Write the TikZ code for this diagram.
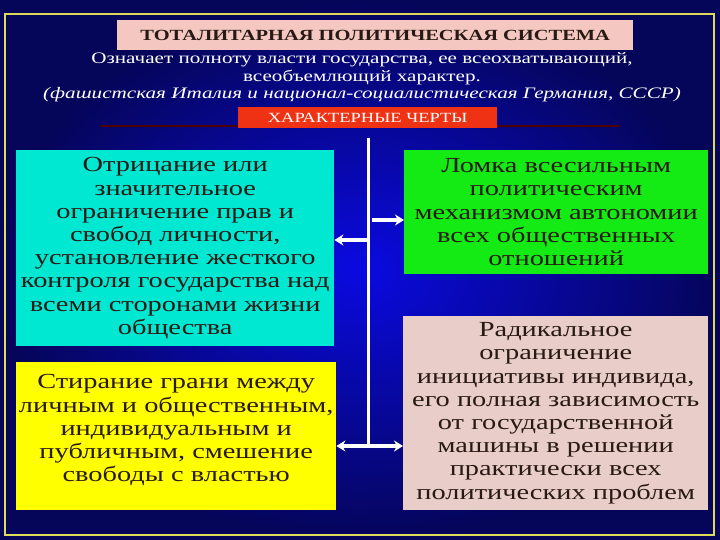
\documentclass[tikz,border=0pt]{standalone}
\usepackage{fontspec}
\setmainfont[FakeStretch=1.32]{Liberation Serif}
\usetikzlibrary{arrows.meta}
\definecolor{navy}{RGB}{5,5,90}
\definecolor{mid}{RGB}{10,10,225}
\definecolor{titlepink}{RGB}{244,200,192}
\definecolor{redbox}{RGB}{240,50,20}
\definecolor{cyanbox}{RGB}{0,232,210}
\definecolor{greenbox}{RGB}{20,235,20}
\definecolor{yellowbox}{RGB}{255,255,0}
\definecolor{pinkbox}{RGB}{232,205,200}
\definecolor{txt}{RGB}{40,25,20}
\definecolor{frame}{RGB}{220,220,90}
\tikzset{
 box/.style={draw=none,anchor=north west,align=center,inner sep=1pt,font=\fontsize{21.5}{23.2}\selectfont,text=txt},
 wl/.style={draw=white,line width=3pt},
 warr/.style={draw=white,line width=3.5pt,-{Stealth[length=9pt,width=11pt]}},
 sub/.style={text=white,font=\fontsize{16}{17}\selectfont}
}
\begin{document}
\begin{tikzpicture}[x=1pt,y=-1pt]
\useasboundingbox (0,0) rectangle (720,540);
\shade[inner color=mid,outer color=navy] (0,0) rectangle (720,540);
\draw[frame,line width=1.2pt] (5,14) rectangle (714,535);
\node[fill=titlepink,minimum width=516pt,minimum height=30pt,anchor=north west,text=txt,font=\bfseries\fontsize{15.5}{16}\selectfont] (title) at (117,20) {ТОТАЛИТАРНАЯ ПОЛИТИЧЕСКАЯ СИСТЕМА};
\node[sub] (s1) at (362,60) {Означает полноту власти государства, ее всеохватывающий,};
\node[sub] (s2) at (362,77) {всеобъемлющий характер.};
\node[sub,font=\itshape\fontsize{16}{17}\selectfont] (s3) at (362,95) {(фашистская Италия и национал-социалистическая Германия, СССР)};
\draw[draw=black!70!red,line width=1.5pt] (100,126) -- (620,126);
\node[fill=redbox,minimum width=259pt,minimum height=21pt,anchor=north west,text=white,font=\fontsize{14}{15}\selectfont] (red) at (238,107) {ХАРАКТЕРНЫЕ ЧЕРТЫ};
\node[box,fill=cyanbox,minimum width=318pt,minimum height=196pt,text width=316pt] (c) at (16,150) {Отрицание или\\значительное\\ограничение прав и\\свобод личности,\\установление жесткого\\контроля государства над\\всеми сторонами жизни\\общества};
\node[box,fill=yellowbox,minimum width=320pt,minimum height=148pt,text width=318pt,anchor=north west] (y) at (16,362) {\\[-21pt]Стирание грани между\\личным и общественным,\\индивидуальным и\\публичным, смешение\\свободы с властью\\[30pt]};
\node[box,fill=greenbox,minimum width=304pt,minimum height=124pt,text width=302pt] (g) at (404,150) {Ломка всесильным\\политическим\\механизмом автономии\\всех общественных\\отношений};
\node[box,fill=pinkbox,minimum width=305pt,minimum height=194pt,text width=303pt] (p) at (403,316) {Радикальное\\ограничение\\инициативы индивида,\\его полная зависимость\\от государственной\\машины в решении\\практически всех\\политических проблем};
\coordinate (top) at (368,138);
\coordinate (bot) at (368,446);
\coordinate (ja) at (368,240);
\coordinate (jb) at (372,220);
\draw[wl] (top) -- (bot);
\draw[warr] (ja) -- (c.east|-ja);
\draw[warr] (jb) -- (g.west|-jb);
\draw[warr] (bot) -- (y.east|-bot);
\draw[warr] (bot) -- (p.west|-bot);
\end{tikzpicture}
\end{document}
